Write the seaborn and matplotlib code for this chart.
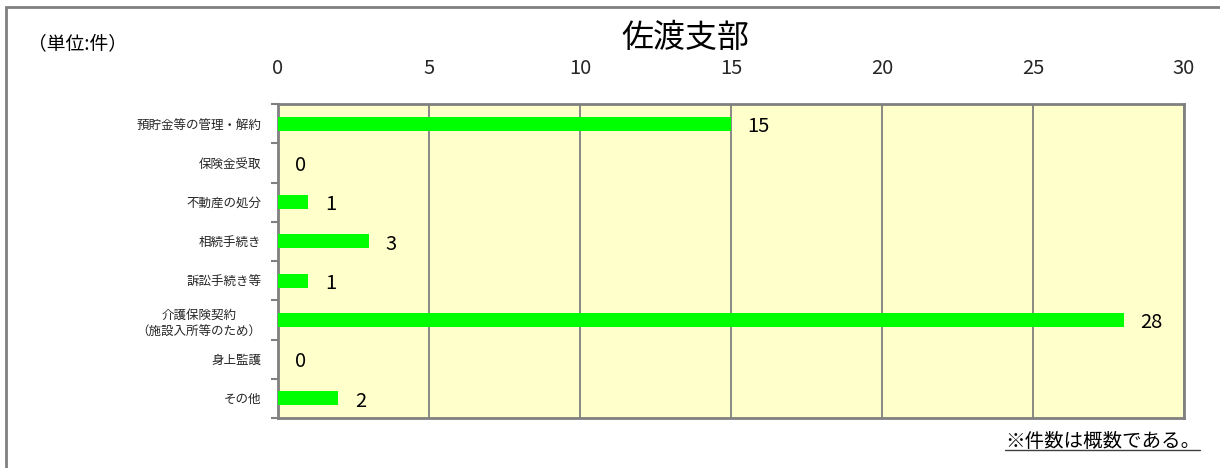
import matplotlib
matplotlib.use("Agg")
import matplotlib.pyplot as plt
import seaborn as sns
import pandas as pd
from matplotlib.patches import Rectangle
from matplotlib.lines import Line2D

categories = ["預貯金等の管理・解約", "保険金受取", "不動産の処分", "相続手続き",
              "訴訟手続き等", "介護保険契約\n（施設入所等のため）", "身上監護", "その他"]
counts = [15, 0, 1, 3, 1, 28, 0, 2]
xticks = [0, 5, 10, 15, 20, 25, 30]
title = "佐渡支部"
unit_label = "（単位:件）"
note = "※件数は概数である。"

sns.set_theme(style="white")
plt.rcParams['font.family'] = ['Noto Sans CJK JP', 'DejaVu Sans']

df = pd.DataFrame({"category": categories, "count": counts})

fig = plt.figure(figsize=(12.2, 4.68), dpi=100)
ax = fig.add_axes([278/1220, 1-418/468, (1184-278)/1220, (418-104)/468])

sns.barplot(data=df, x="count", y="category", orient="h", color="#00FF00",
            saturation=1, width=0.36, ax=ax, zorder=3, linewidth=0, edgecolor="none")

ax.set_facecolor("#FFFFCC")
ax.set_xlim(0, 30)
ax.set_ylim(len(categories) - 0.5, -0.5)
ax.set_xticks(xticks)
ax.set_xticklabels([str(t) for t in xticks], fontsize=14.5)
ax.xaxis.tick_top()
ax.tick_params(axis="x", length=0, pad=18)
ax.set_xlabel("")
ax.set_ylabel("")
ax.grid(axis="x", color="#808080", linewidth=1.3, zorder=1)
ax.set_axisbelow(True)

ax.set_yticks(range(len(categories)))
ax.set_yticklabels(categories, fontsize=9, linespacing=1.45)
ax.tick_params(axis="y", which="major", length=0, pad=12)
ax.set_yticks([i + 0.5 for i in range(-1, len(categories))], minor=True)
ax.tick_params(axis="y", which="minor", length=5, width=1.5, color="#808080", left=True)
for lbl in ax.get_yticklabels():
    lbl.set_multialignment("center")

for s in ax.spines.values():
    s.set_color("#808080")
    s.set_linewidth(2)
    s.set_visible(True)

for i, v in enumerate(counts):
    ax.annotate(str(v), xy=(v, i), xytext=(12, -2), textcoords="offset points",
                ha="left", va="center", fontsize=14.5, color="black")

fig.text(685/1220, 1-38/468, title, ha="center", va="center", fontsize=23, color="black")
fig.text(28/1220, 1-44/468, unit_label, ha="left", va="center", fontsize=13.5, color="black")
t = fig.text(1200/1220, 1-441/468, note, ha="right", va="center", fontsize=14, color="black")

fig.canvas.draw()
bb = t.get_window_extent()
inv = fig.transFigure.inverted()
(x0, y0), (x1, y1) = inv.transform([(bb.x0, bb.y0), (bb.x1, bb.y0)])
fig.add_artist(Line2D([x0, x1], [y0 + 2/468, y0 + 2/468], transform=fig.transFigure,
                      color="#404040", linewidth=1))

fig.add_artist(Rectangle((6/1220, -0.05), 1.1, 1 - 7/468 + 0.05, transform=fig.transFigure,
                         fill=False, edgecolor="#808080", linewidth=2))

fig.savefig("out.png", dpi=100)
